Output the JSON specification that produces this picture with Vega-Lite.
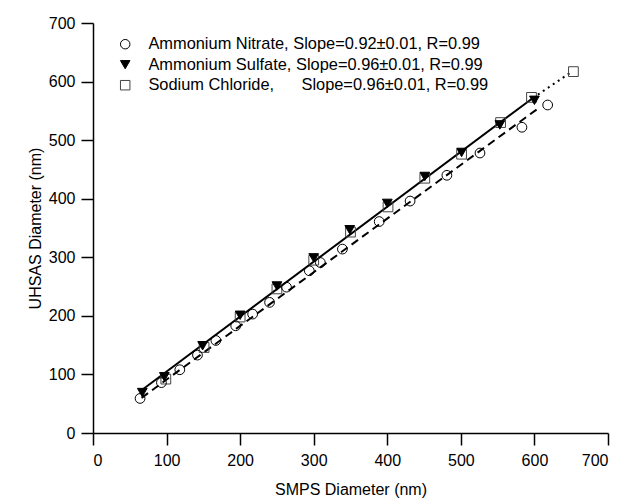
{
  "$schema": "https://vega.github.io/schema/vega-lite/v6.json",
  "autosize": "none",
  "width": 515,
  "height": 410,
  "padding": {"left": 93, "top": 23, "right": 16, "bottom": 65},
  "background": "white",
  "config": {
    "view": {"stroke": null},
    "font": "Liberation Sans",
    "axis": {
      "grid": false,
      "domainColor": "black",
      "domainWidth": 1.5,
      "tickColor": "black",
      "tickWidth": 1.5,
      "tickSize": 12,
      "labelFont": "Liberation Sans",
      "labelFontSize": 16,
      "labelColor": "black",
      "labelPadding": 6,
      "titleFont": "Liberation Sans",
      "titleFontSize": 16,
      "titleFontWeight": "normal",
      "titleColor": "black"
    },
    "legend": {
      "labelFont": "Liberation Sans",
      "labelFontSize": 16.4,
      "labelColor": "black",
      "labelLimit": 500,
      "padding": 0,
      "symbolSize": 90,
      "symbolStrokeWidth": 1,
      "labelOffset": 15,
      "rowPadding": 3.5
    }
  },
  "layer": [
    {
      "data": {
        "values": [
          {"fit": "Ammonium Nitrate", "smps": 66, "uhsas": 60},
          {"fit": "Ammonium Nitrate", "smps": 606, "uhsas": 555}
        ]
      },
      "mark": {"type": "line", "color": "black", "strokeWidth": 2, "strokeDash": [8, 5]},
      "encoding": {
        "x": {"field": "smps", "type": "quantitative", "scale": {"domain": [0, 700], "nice": false, "zero": false},
              "axis": {"values": [0, 100, 200, 300, 400, 500, 600, 700], "title": "SMPS Diameter (nm)", "labelPadding": 7, "titlePadding": 13}},
        "y": {"field": "uhsas", "type": "quantitative", "scale": {"domain": [0, 700], "nice": false, "zero": false},
              "axis": {"values": [0, 100, 200, 300, 400, 500, 600, 700], "title": "UHSAS Diameter (nm)", "titlePadding": 5}}
      }
    },
    {
      "data": {
        "values": [
          {"fit": "Ammonium Sulfate", "smps": 66, "uhsas": 73},
          {"fit": "Ammonium Sulfate", "smps": 598, "uhsas": 572}
        ]
      },
      "mark": {"type": "line", "color": "black", "strokeWidth": 2},
      "encoding": {
        "x": {"field": "smps", "type": "quantitative"},
        "y": {"field": "uhsas", "type": "quantitative"}
      }
    },
    {
      "data": {
        "values": [
          {"fit": "Sodium Chloride", "smps": 598, "uhsas": 572},
          {"fit": "Sodium Chloride", "smps": 651, "uhsas": 617}
        ]
      },
      "mark": {"type": "line", "color": "black", "strokeWidth": 2, "strokeDash": [2, 4]},
      "encoding": {
        "x": {"field": "smps", "type": "quantitative"},
        "y": {"field": "uhsas", "type": "quantitative"}
      }
    },
    {
      "data": {
        "values": [
          {"material": "Sodium Chloride", "smps": 99, "uhsas": 92},
          {"material": "Sodium Chloride", "smps": 151, "uhsas": 146},
          {"material": "Sodium Chloride", "smps": 200, "uhsas": 198},
          {"material": "Sodium Chloride", "smps": 250, "uhsas": 246},
          {"material": "Sodium Chloride", "smps": 300, "uhsas": 295},
          {"material": "Sodium Chloride", "smps": 350, "uhsas": 343},
          {"material": "Sodium Chloride", "smps": 401, "uhsas": 386},
          {"material": "Sodium Chloride", "smps": 451, "uhsas": 435},
          {"material": "Sodium Chloride", "smps": 501, "uhsas": 476},
          {"material": "Sodium Chloride", "smps": 554, "uhsas": 530},
          {"material": "Sodium Chloride", "smps": 596, "uhsas": 573},
          {"material": "Sodium Chloride", "smps": 653, "uhsas": 617},
          {"material": "Ammonium Nitrate", "smps": 64, "uhsas": 59},
          {"material": "Ammonium Nitrate", "smps": 93, "uhsas": 86},
          {"material": "Ammonium Nitrate", "smps": 118, "uhsas": 108},
          {"material": "Ammonium Nitrate", "smps": 142, "uhsas": 133},
          {"material": "Ammonium Nitrate", "smps": 167, "uhsas": 158},
          {"material": "Ammonium Nitrate", "smps": 194, "uhsas": 183},
          {"material": "Ammonium Nitrate", "smps": 217, "uhsas": 203},
          {"material": "Ammonium Nitrate", "smps": 240, "uhsas": 223},
          {"material": "Ammonium Nitrate", "smps": 263, "uhsas": 249},
          {"material": "Ammonium Nitrate", "smps": 294, "uhsas": 277},
          {"material": "Ammonium Nitrate", "smps": 309, "uhsas": 291},
          {"material": "Ammonium Nitrate", "smps": 339, "uhsas": 314},
          {"material": "Ammonium Nitrate", "smps": 389, "uhsas": 361},
          {"material": "Ammonium Nitrate", "smps": 431, "uhsas": 396},
          {"material": "Ammonium Nitrate", "smps": 481, "uhsas": 440},
          {"material": "Ammonium Nitrate", "smps": 526, "uhsas": 478},
          {"material": "Ammonium Nitrate", "smps": 583, "uhsas": 522},
          {"material": "Ammonium Nitrate", "smps": 618, "uhsas": 560},
          {"material": "Ammonium Sulfate", "smps": 67, "uhsas": 69},
          {"material": "Ammonium Sulfate", "smps": 97, "uhsas": 96},
          {"material": "Ammonium Sulfate", "smps": 149, "uhsas": 149},
          {"material": "Ammonium Sulfate", "smps": 200, "uhsas": 201},
          {"material": "Ammonium Sulfate", "smps": 250, "uhsas": 251},
          {"material": "Ammonium Sulfate", "smps": 300, "uhsas": 299},
          {"material": "Ammonium Sulfate", "smps": 349, "uhsas": 347},
          {"material": "Ammonium Sulfate", "smps": 400, "uhsas": 392},
          {"material": "Ammonium Sulfate", "smps": 451, "uhsas": 438},
          {"material": "Ammonium Sulfate", "smps": 501, "uhsas": 479},
          {"material": "Ammonium Sulfate", "smps": 553, "uhsas": 526},
          {"material": "Ammonium Sulfate", "smps": 600, "uhsas": 568}
        ]
      },
      "mark": {"type": "point", "filled": true, "strokeWidth": 1, "size": 95, "opacity": 1},
      "encoding": {
        "x": {"field": "smps", "type": "quantitative"},
        "y": {"field": "uhsas", "type": "quantitative"},
        "shape": {"field": "material", "type": "nominal",
                  "scale": {"domain": ["Ammonium Nitrate", "Ammonium Sulfate", "Sodium Chloride"], "range": ["circle", "triangle-down", "square"]},
                  "legend": {
                    "title": null,
                    "orient": "none",
                    "legendX": 24,
                    "legendY": 13,
                    "labelExpr": "datum.label == 'Ammonium Nitrate' ? 'Ammonium Nitrate, Slope=0.92±0.01, R=0.99' : datum.label == 'Ammonium Sulfate' ? 'Ammonium Sulfate, Slope=0.96±0.01, R=0.99' : 'Sodium Chloride,\u00a0\u00a0\u00a0\u00a0\u00a0 Slope=0.96±0.01, R=0.99'"
                  }},
        "fill": {"field": "material", "type": "nominal",
                 "scale": {"domain": ["Ammonium Nitrate", "Ammonium Sulfate", "Sodium Chloride"], "range": ["transparent", "black", "transparent"]}},
        "stroke": {"field": "material", "type": "nominal",
                   "scale": {"domain": ["Ammonium Nitrate", "Ammonium Sulfate", "Sodium Chloride"], "range": ["black", "black", "#444444"]}}
      }
    }
  ]
}
